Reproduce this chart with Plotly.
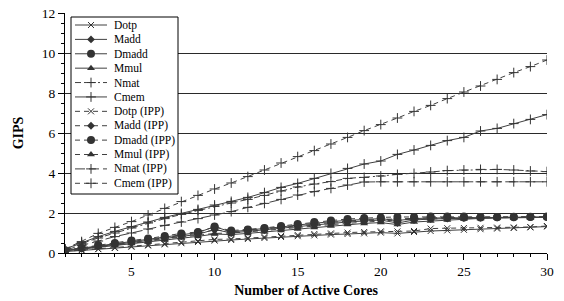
import plotly.graph_objects as go

cores = list(range(1, 31))

series_names = ["Dotp", "Madd", "Dmadd", "Mmul", "Nmat", "Cmem",
                "Dotp (IPP)", "Madd (IPP)", "Dmadd (IPP)", "Mmul (IPP)", "Nmat (IPP)", "Cmem (IPP)"]

dotp = [0.07, 0.13, 0.19, 0.25, 0.31, 0.37, 0.43, 0.49, 0.55, 0.62, 0.65, 0.70, 0.75, 0.80, 0.84,
        0.88, 0.92, 0.95, 0.98, 1.02, 0.98, 1.05, 1.10, 1.13, 1.16, 1.19, 1.22, 1.25, 1.28, 1.32]
madd = [0.12, 0.22, 0.33, 0.42, 0.53, 0.62, 0.73, 0.85, 0.93, 1.18, 1.00, 1.08, 1.15, 1.22, 1.32,
        1.40, 1.48, 1.55, 1.60, 1.65, 1.50, 1.65, 1.70, 1.72, 1.74, 1.76, 1.77, 1.78, 1.79, 1.79]
dmadd = [0.13, 0.24, 0.37, 0.46, 0.60, 0.68, 0.80, 0.93, 1.02, 1.32, 1.05, 1.15, 1.22, 1.30, 1.40,
         1.50, 1.57, 1.63, 1.68, 1.72, 1.62, 1.72, 1.75, 1.76, 1.77, 1.78, 1.79, 1.79, 1.80, 1.80]
mmul = [0.10, 0.19, 0.29, 0.37, 0.47, 0.55, 0.65, 0.75, 0.83, 0.95, 0.92, 0.98, 1.05, 1.12, 1.20,
        1.28, 1.35, 1.42, 1.48, 1.52, 1.42, 1.55, 1.60, 1.65, 1.70, 1.73, 1.75, 1.76, 1.77, 1.78]
nmat = [0.20, 0.48, 0.75, 1.00, 1.25, 1.50, 1.72, 1.93, 2.13, 2.33, 2.50, 2.68, 2.88, 3.10, 3.30,
        3.45, 3.57, 3.73, 3.78, 3.85, 3.93, 3.98, 4.05, 4.12, 4.15, 4.18, 4.18, 4.15, 4.10, 4.07]
cmem = [0.20, 0.52, 0.82, 1.08, 1.32, 1.55, 1.78, 1.98, 2.18, 2.40, 2.58, 2.78, 3.02, 3.28, 3.48,
        3.73, 3.98, 4.23, 4.45, 4.60, 4.93, 5.15, 5.38, 5.62, 5.78, 6.10, 6.23, 6.47, 6.68, 6.92]
dotp_ipp = [0.08, 0.14, 0.20, 0.27, 0.34, 0.40, 0.47, 0.54, 0.60, 0.68, 0.70, 0.75, 0.80, 0.85, 0.90,
            0.95, 0.98, 1.02, 1.05, 1.08, 1.08, 1.10, 1.22, 1.24, 1.25, 1.26, 1.27, 1.28, 1.30, 1.35]
madd_ipp = [0.12, 0.23, 0.35, 0.45, 0.57, 0.65, 0.78, 0.90, 0.98, 1.15, 1.08, 1.12, 1.20, 1.28, 1.38,
            1.47, 1.55, 1.60, 1.65, 1.68, 1.72, 1.73, 1.76, 1.77, 1.78, 1.78, 1.79, 1.80, 1.80, 1.80]
dmadd_ipp = [0.14, 0.26, 0.40, 0.50, 0.63, 0.72, 0.85, 0.98, 1.05, 1.30, 1.12, 1.18, 1.25, 1.35, 1.45,
             1.55, 1.62, 1.70, 1.75, 1.78, 1.80, 1.80, 1.82, 1.82, 1.82, 1.80, 1.80, 1.81, 1.81, 1.82]
mmul_ipp = [0.11, 0.20, 0.31, 0.40, 0.50, 0.58, 0.70, 0.80, 0.88, 0.98, 1.00, 1.05, 1.12, 1.20, 1.28,
            1.35, 1.42, 1.48, 1.55, 1.60, 1.65, 1.68, 1.72, 1.74, 1.75, 1.76, 1.77, 1.78, 1.78, 1.79]
nmat_ipp = [0.15, 0.38, 0.60, 0.82, 1.00, 1.20, 1.38, 1.55, 1.72, 1.90, 2.07, 2.28, 2.48, 2.68, 2.90,
            3.07, 3.23, 3.40, 3.55, 3.56, 3.56, 3.56, 3.56, 3.56, 3.56, 3.56, 3.56, 3.56, 3.56, 3.56]
cmem_ipp = [0.20, 0.57, 0.98, 1.28, 1.57, 1.90, 2.23, 2.57, 2.88, 3.20, 3.50, 3.82, 4.15, 4.50, 4.82,
            5.12, 5.45, 5.78, 6.12, 6.42, 6.75, 7.08, 7.38, 7.72, 8.05, 8.35, 8.68, 9.02, 9.32, 9.65]

series_values = [dotp, madd, dmadd, mmul, nmat, cmem,
                 dotp_ipp, madd_ipp, dmadd_ipp, mmul_ipp, nmat_ipp, cmem_ipp]

x_tick_vals = [5, 10, 15, 20, 25, 30]
y_tick_vals = [0, 2, 4, 6, 8, 10, 12]

# ---- styles ----
LINE_C = "#404040"
MARK_C = "#333333"
FONT = "Liberation Serif"
symbols = ["x-thin", "diamond", "circle", "triangle-up", "cross-thin", "cross-thin"] * 2
sizes = [6, 6, 8, 7, 7, 7] * 2
dashes = ["solid", "solid", "solid", "solid", "6px,3px,2px,3px", "solid",
          "5px,4px", "5px,4px", "5px,4px", "5px,4px", "10px,4px", "5px,4px"]

# plot-area geometry in pixels
ML, MR, MT, MB = 65, 17, 13, 48
W, H = 564, 301
X_RANGE = [1, 30]
Y_RANGE = [0, 12]


def marker_style(sym, size):
    if sym.endswith("-thin"):
        return dict(symbol=sym, size=size, color=MARK_C, line=dict(color=MARK_C, width=1))
    return dict(symbol=sym, size=size, color=MARK_C, line=dict(width=0))


fig = go.Figure()

for name, vals, sym, sz, dsh in zip(series_names, series_values, symbols, sizes, dashes):
    fig.add_trace(go.Scatter(
        x=cores, y=vals, name=name, mode="lines+markers",
        line=dict(color=LINE_C, width=1, dash=dsh),
        marker=marker_style(sym, sz), showlegend=False,
    ))

# ---- hand-built legend (pixel-coordinate overlay axes) ----
LEG_X0, LEG_X1, LEG_Y0, LEG_Y1 = 71, 178, 17, 194
ROW0, ROW_STEP = 25.0, 14.39
SAMPLE_X0, SAMPLE_X1, TEXT_X = 75, 107, 112

pw = W - ML - MR
ph = H - MT - MB


def px_to_x(px):
    return X_RANGE[0] + (px - ML) / pw * (X_RANGE[1] - X_RANGE[0])


def py_to_y(py):
    return Y_RANGE[0] + (MT + ph - py) / ph * (Y_RANGE[1] - Y_RANGE[0])


fig.add_shape(type="rect", xref="x", yref="y",
              x0=px_to_x(LEG_X0), x1=px_to_x(LEG_X1), y0=py_to_y(LEG_Y1), y1=py_to_y(LEG_Y0),
              line=dict(color="black", width=1), fillcolor="white", layer="between")

for i, (name, sym, sz, dsh) in enumerate(zip(series_names, symbols, sizes, dashes)):
    ry = ROW0 + i * ROW_STEP
    fig.add_trace(go.Scatter(
        x=[SAMPLE_X0, SAMPLE_X1], y=[ry, ry], mode="lines", xaxis="x2", yaxis="y2",
        line=dict(color=LINE_C, width=1, dash=dsh), showlegend=False, hoverinfo="skip"))
    fig.add_trace(go.Scatter(
        x=[(SAMPLE_X0 + SAMPLE_X1) / 2], y=[ry], mode="markers", xaxis="x2", yaxis="y2",
        marker=marker_style(sym, sz), showlegend=False, hoverinfo="skip"))
    fig.add_annotation(x=TEXT_X, y=ry, xref="x2", yref="y2", text=name, showarrow=False,
                       xanchor="left", yanchor="middle",
                       font=dict(family=FONT, size=11.5, color="black"))

fig.update_layout(
    template="none",
    width=W, height=H,
    margin=dict(l=ML, r=MR, t=MT, b=MB, autoexpand=False),
    paper_bgcolor="white", plot_bgcolor="white",
    font=dict(family=FONT, size=13, color="black"),
    xaxis=dict(
        range=X_RANGE, tickmode="array", tickvals=x_tick_vals, automargin=False,
        ticks="outside", ticklen=6, tickwidth=1, tickcolor="black",
        minor=dict(ticks="outside", ticklen=3, tickcolor="black", dtick=1, tick0=0, showgrid=False),
        showgrid=False, zeroline=False, showline=True, linecolor="black", linewidth=1,
        tickfont=dict(family=FONT, size=13.5),
        title=dict(text="Number of Active Cores", font=dict(family=FONT, size=14, weight="bold"),
                   standoff=6),
    ),
    yaxis=dict(
        range=Y_RANGE, tickmode="array", tickvals=y_tick_vals, automargin=False,
        ticks="outside", ticklen=6, tickwidth=1, tickcolor="black",
        minor=dict(ticks="outside", ticklen=3, tickcolor="black", dtick=0.5, tick0=0, showgrid=False),
        showgrid=True, gridcolor="#2a2a2a", gridwidth=1,
        zeroline=False, showline=True, linecolor="black", linewidth=1,
        tickfont=dict(family=FONT, size=13.5),
        title=dict(text="GIPS", font=dict(family=FONT, size=14, weight="bold"), standoff=14),
    ),
    xaxis2=dict(overlaying="x", anchor="y2", range=[ML, ML + pw], visible=False,
                fixedrange=True, automargin=False),
    yaxis2=dict(overlaying="y", anchor="x2", range=[MT + ph, MT], visible=False,
                fixedrange=True, automargin=False),
)

fig.write_html("out.html", config={"displayModeBar": False},
               post_script="document.body.style.margin='0';document.body.style.overflow='hidden';")
